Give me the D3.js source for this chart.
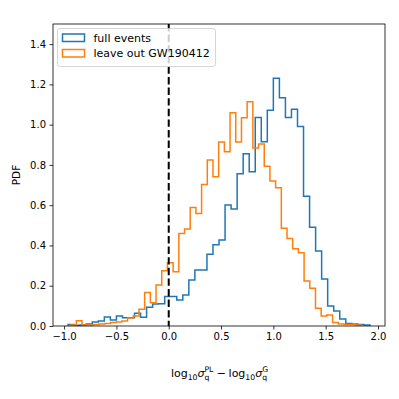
<!DOCTYPE html>
<html lang="en">
<head>
<meta charset="UTF-8">
<title>PDF histogram</title>
<script src="https://d3js.org/d3.v7.min.js"></script>
<style>
  body { margin: 0; background: #fff; }
  text { font-family: "DejaVu Sans", sans-serif; fill: #000; }
  .axis path, .axis line { stroke: #000; stroke-width: 0.8px; }
  .axis text { font-size: 10px; }
</style>
</head>
<body>
<script>
// histogram range [lo, hi] and bin heights (density)
var fullRange = [-0.9615, 1.923];
var fullValues = [0.008, 0.004, 0.005, 0.01, 0.02, 0.025, 0.045, 0.03, 0.05, 0.041,
                  0.041, 0.063, 0.043, 0.093, 0.109, 0.11, 0.146, 0.146, 0.129, 0.154,
                  0.228, 0.278, 0.278, 0.356, 0.404, 0.427, 0.601, 0.581, 0.756, 0.856,
                  0.766, 1.036, 0.915, 1.071, 1.230, 1.134, 1.036, 1.077, 0.991, 0.645,
                  0.49, 0.372, 0.233, 0.099, 0.075, 0.035, 0.013, 0.01, 0.007, 0.005];

var leaveRange = [-0.9375, 1.838];
var leaveValues = [0.005, 0.026, 0.005, 0.005, 0.008, 0.01, 0.012, 0.017, 0.02, 0.025,
                   0.04, 0.05, 0.083, 0.167, 0.116, 0.204, 0.275, 0.314, 0.27, 0.46,
                   0.482, 0.588, 0.559, 0.703, 0.824, 0.741, 0.914, 0.866, 1.059, 0.914,
                   1.034, 1.114, 0.884, 0.904, 0.794, 0.72, 0.687, 0.485, 0.435, 0.384,
                   0.364, 0.223, 0.187, 0.088, 0.05, 0.055, 0.017, 0.01, 0.008, 0.007, 0.005];

var seriesNames = ["full events", "leave out GW190412"];
var xTicks = [-1.0, -0.5, 0.0, 0.5, 1.0, 1.5, 2.0];
var yTicks = [0.0, 0.2, 0.4, 0.6, 0.8, 1.0, 1.2, 1.4];
var vline = 0;

var width = 399, height = 399;
var margin = {left: 53, right: 14, top: 24, bottom: 73};

var svg = d3.select("body").append("svg")
  .attr("width", width)
  .attr("height", height);

var x = d3.scaleLinear().domain([-1.106, 2.067]).range([margin.left, width - margin.right]);
var y = d3.scaleLinear().domain([0, 1.5]).range([height - margin.bottom, margin.top]);

// build a step outline like matplotlib histtype='step'
function stepPoints(range, values) {
  var n = values.length, w = (range[1] - range[0]) / n;
  var pts = [[range[0], 0]];
  values.forEach(function(v, i) {
    pts.push([range[0] + i * w, v]);
    pts.push([range[0] + (i + 1) * w, v]);
  });
  pts.push([range[1], 0]);
  return pts;
}

var line = d3.line()
  .x(function(d) { return x(d[0]); })
  .y(function(d) { return y(d[1]); });

var series = [
  {name: seriesNames[0], color: "#1f77b4", pts: stepPoints(fullRange, fullValues)},
  {name: seriesNames[1], color: "#ff7f0e", pts: stepPoints(leaveRange, leaveValues)}
];

var plot = svg.append("g");

series.forEach(function(s) {
  plot.append("path")
    .attr("d", line(s.pts))
    .attr("fill", "none")
    .attr("stroke", s.color)
    .attr("stroke-width", 1.5)
    .attr("stroke-linejoin", "miter");
});

// dashed vertical line at 0
plot.append("line")
  .attr("x1", x(vline)).attr("x2", x(vline))
  .attr("y1", y(1.5)).attr("y2", y(0))
  .attr("stroke", "#000")
  .attr("stroke-width", 2)
  .attr("stroke-dasharray", "7.4,3.2");

// axes
svg.append("g").attr("class", "axis")
  .attr("transform", "translate(0," + y(0) + ")")
  .call(d3.axisBottom(x).tickValues(xTicks).tickSizeOuter(0).tickSize(3.5).tickPadding(3.5)
    .tickFormat(function(d) { return d3.format(".1f")(d).replace("-", "\u2212"); }));

svg.append("g").attr("class", "axis")
  .attr("transform", "translate(" + x.range()[0] + ",0)")
  .call(d3.axisLeft(y).tickValues(yTicks).tickSizeOuter(0).tickSize(3.5).tickPadding(3.5)
    .tickFormat(d3.format(".1f")));

svg.selectAll(".axis .domain").remove();

// frame
svg.append("rect")
  .attr("x", x.range()[0]).attr("y", y.range()[1])
  .attr("width", x.range()[1] - x.range()[0])
  .attr("height", y.range()[0] - y.range()[1])
  .attr("fill", "none")
  .attr("stroke", "#000")
  .attr("stroke-width", 0.8);

// y label
svg.append("text")
  .attr("transform", "translate(20," + ((y.range()[0] + y.range()[1]) / 2) + ") rotate(-90)")
  .attr("text-anchor", "middle")
  .attr("font-size", "10.5px")
  .text("PDF");

// x label, mathtext-like
var xl = svg.append("g");
var pieces = [
  {t: "log", size: 11, dy: 0},
  {t: "10", size: 7.7, dy: 2.5},
  {t: "\u03c3", size: 11, dy: 0, italic: true},
  {sub: "q", sup: "PL", size: 7.7},
  {t: "\u2212", size: 11, dy: 0, pad: 2.5},
  {t: "log", size: 11, dy: 0},
  {t: "10", size: 7.7, dy: 2.5},
  {t: "\u03c3", size: 11, dy: 0, italic: true},
  {sub: "q", sup: "G", size: 7.7}
];
var cx = 0;
pieces.forEach(function(p) {
  if (p.sub) {
    var a = xl.append("text").attr("x", cx).attr("y", 3).attr("font-size", p.size + "px").text(p.sub);
    var b = xl.append("text").attr("x", cx).attr("y", -5).attr("font-size", p.size + "px").text(p.sup);
    cx += Math.max(a.node().getComputedTextLength(), b.node().getComputedTextLength()) + 1;
  } else {
    cx += p.pad || 0;
    var t = xl.append("text").attr("x", cx).attr("y", p.dy)
      .attr("font-size", p.size + "px")
      .attr("font-style", p.italic ? "italic" : null)
      .text(p.t);
    cx += t.node().getComputedTextLength() + (p.pad || 0);
  }
});
xl.attr("transform", "translate(" + (220 - cx / 2) + ",377)");

// legend
var lg = svg.append("g");
lg.append("rect")
  .attr("x", 57.5).attr("y", 28.5)
  .attr("width", 158).attr("height", 38)
  .attr("rx", 2.5)
  .attr("fill", "#fff").attr("fill-opacity", 0.8)
  .attr("stroke", "#ccc").attr("stroke-width", 0.8);

series.forEach(function(s, i) {
  var yy = 38 + i * 15.5;
  lg.append("rect")
    .attr("x", 62.5).attr("y", yy - 4)
    .attr("width", 22).attr("height", 7.5)
    .attr("fill", "none")
    .attr("stroke", s.color)
    .attr("stroke-width", 1.5);
  lg.append("text")
    .attr("x", 93.5).attr("y", yy)
    .attr("dy", "0.35em")
    .attr("font-size", "11px")
    .text(s.name);
});
</script>
</body>
</html>
